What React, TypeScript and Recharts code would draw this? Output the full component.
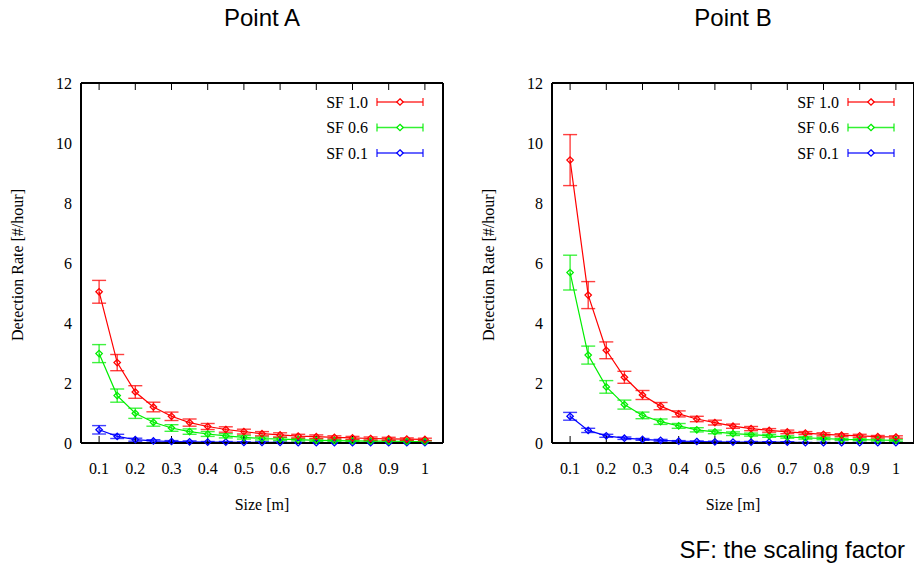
import React from 'react';
import { LineChart, Line, XAxis, YAxis, ErrorBar } from 'recharts';

const sizes = [0.1, 0.15, 0.2, 0.25, 0.3, 0.35, 0.4, 0.45, 0.5, 0.55, 0.6, 0.65, 0.7, 0.75, 0.8, 0.85, 0.9, 0.95, 1.0];

const xTicks = [0.1, 0.2, 0.3, 0.4, 0.5, 0.6, 0.7, 0.8, 0.9, 1];
const yMajorTicks = [0, 2, 4, 6, 8, 10, 12];
const yMinorTicks = [0.5, 1, 1.5, 2.5, 3, 3.5, 4.5, 5, 5.5, 6.5, 7, 7.5, 8.5, 9, 9.5, 10.5, 11, 11.5];

const seriesNames = ['SF 1.0', 'SF 0.6', 'SF 0.1'];
const seriesColors = ['#ff0000', '#00ee00', '#0000ff'];
const panelTitles = ['Point A', 'Point B'];

// Point A
const aSF10 = [5.04, 2.68, 1.70, 1.20, 0.89, 0.68, 0.55, 0.45, 0.38, 0.31, 0.27, 0.23, 0.21, 0.19, 0.17, 0.15, 0.14, 0.13, 0.12];
const aSF10Err = [0.38, 0.27, 0.21, 0.16, 0.14, 0.12, 0.10, 0.09, 0.08, 0.07, 0.07, 0.06, 0.06, 0.05, 0.05, 0.05, 0.05, 0.04, 0.04];
const aSF06 = [2.98, 1.58, 0.99, 0.69, 0.50, 0.38, 0.30, 0.24, 0.19, 0.15, 0.13, 0.11, 0.09, 0.08, 0.07, 0.06, 0.06, 0.05, 0.05];
const aSF06Err = [0.30, 0.22, 0.17, 0.13, 0.11, 0.09, 0.08, 0.07, 0.06, 0.05, 0.05, 0.04, 0.04, 0.04, 0.03, 0.03, 0.03, 0.03, 0.03];
const aSF01 = [0.44, 0.22, 0.11, 0.07, 0.05, 0.04, 0.03, 0.03, 0.02, 0.02, 0.02, 0.01, 0.01, 0.01, 0.01, 0.01, 0.01, 0.01, 0.01];
const aSF01Err = [0.14, 0.07, 0.05, 0.04, 0.03, 0.03, 0.02, 0.02, 0.02, 0.02, 0.01, 0.01, 0.01, 0.01, 0.01, 0.01, 0.01, 0.01, 0.01];

// Point B
const bSF10 = [9.43, 4.93, 3.09, 2.19, 1.60, 1.23, 0.97, 0.80, 0.68, 0.56, 0.48, 0.42, 0.37, 0.33, 0.29, 0.26, 0.24, 0.21, 0.20];
const bSF10Err = [0.85, 0.45, 0.28, 0.20, 0.15, 0.12, 0.10, 0.09, 0.08, 0.07, 0.07, 0.06, 0.06, 0.05, 0.05, 0.05, 0.05, 0.04, 0.04];
const bSF06 = [5.68, 2.93, 1.87, 1.28, 0.92, 0.71, 0.57, 0.44, 0.37, 0.31, 0.28, 0.24, 0.20, 0.17, 0.15, 0.12, 0.11, 0.10, 0.09];
const bSF06Err = [0.58, 0.30, 0.21, 0.15, 0.11, 0.09, 0.08, 0.07, 0.06, 0.06, 0.05, 0.05, 0.04, 0.04, 0.04, 0.03, 0.03, 0.03, 0.03];
const bSF01 = [0.89, 0.42, 0.24, 0.16, 0.12, 0.09, 0.06, 0.05, 0.04, 0.03, 0.03, 0.03, 0.03, 0.01, 0.01, 0.01, 0.01, 0.01, 0.01];
const bSF01Err = [0.13, 0.07, 0.05, 0.04, 0.03, 0.03, 0.02, 0.02, 0.02, 0.02, 0.02, 0.01, 0.01, 0.01, 0.01, 0.01, 0.01, 0.01, 0.01];

const buildRows = (v1: number[], e1: number[], v2: number[], e2: number[], v3: number[], e3: number[]) =>
  sizes.map((s, i) => ({ size: s, s0: v1[i], e0: e1[i], s1: v2[i], e1: e2[i], s2: v3[i], e2: e3[i] }));

const rowsA = buildRows(aSF10, aSF10Err, aSF06, aSF06Err, aSF01, aSF01Err);
const rowsB = buildRows(bSF10, bSF10Err, bSF06, bSF06Err, bSF01, bSF01Err);

const SERIF = '"Liberation Serif", "DejaVu Serif", serif';
const SANS = '"Liberation Sans", Arial, sans-serif';

const EmptyTick = () => <g />;

const makeDot = (color: string) => (props: any) => {
  const { cx, cy, index } = props;
  if (cx == null || cy == null) return <g key={`d-${index}`} />;
  const r = 3.2;
  return (
    <path
      key={`d-${index}`}
      d={`M${cx},${cy - r}L${cx + r},${cy}L${cx},${cy + r}L${cx - r},${cy}Z`}
      fill="none"
      stroke={color}
      strokeWidth={1.3}
    />
  );
};

const CHART_W = 457;
const CHART_H = 567;

function Panel({ rows, left }: { rows: any[]; left: number }) {
  const xDomain: [number, number] = [0.05, 1.05];
  const yDomain: [number, number] = [0, 12];
  const border = { stroke: '#000', strokeWidth: 2 };
  const tl = { stroke: '#000', strokeWidth: 1 };
  return (
    <div style={{ position: 'absolute', left, top: 0 }}>
      <LineChart width={CHART_W} height={CHART_H} data={rows} margin={{ top: 83, right: 14, left: 21, bottom: 94 }}>
        <XAxis xAxisId="x" dataKey="size" type="number" domain={xDomain} allowDataOverflow ticks={xTicks} interval={0}
          tickLine={false} tickSize={0} tickMargin={20} height={30} axisLine={border}
          tick={{ fill: '#000', fontSize: 16, fontFamily: SERIF }} />
        <XAxis xAxisId="xin" dataKey="size" type="number" domain={xDomain} allowDataOverflow ticks={xTicks} interval={0}
          mirror height={1} tick={EmptyTick} tickSize={7} tickLine={tl} axisLine={false} />
        <XAxis xAxisId="xtop" orientation="top" dataKey="size" type="number" domain={xDomain} allowDataOverflow ticks={xTicks} interval={0}
          mirror height={1} tick={EmptyTick} tickSize={7} tickLine={tl} axisLine={border} />
        <YAxis yAxisId="y" type="number" domain={yDomain} ticks={yMajorTicks} interval={0} width={60}
          tickLine={false} tickSize={0} tickMargin={9} axisLine={border}
          tick={{ fill: '#000', fontSize: 16, fontFamily: SERIF }} />
        <YAxis yAxisId="yin" type="number" domain={yDomain} ticks={yMajorTicks} interval={0} mirror width={1}
          tick={EmptyTick} tickSize={7} tickLine={tl} axisLine={false} />
        <YAxis yAxisId="yinm" type="number" domain={yDomain} ticks={yMinorTicks} interval={0} mirror width={1}
          tick={EmptyTick} tickSize={4} tickLine={tl} axisLine={false} />
        <YAxis yAxisId="yr" orientation="right" type="number" domain={yDomain} ticks={yMajorTicks} interval={0} mirror width={1}
          tick={EmptyTick} tickSize={7} tickLine={tl} axisLine={border} />
        <YAxis yAxisId="yrm" orientation="right" type="number" domain={yDomain} ticks={yMinorTicks} interval={0} mirror width={1}
          tick={EmptyTick} tickSize={4} tickLine={tl} axisLine={false} />
        {[2, 1, 0].map((k) => (
          <Line key={k} xAxisId="x" yAxisId="y" type="linear" dataKey={`s${k}`} name={seriesNames[k]}
            stroke={seriesColors[k]} strokeWidth={1.2} dot={makeDot(seriesColors[k])} activeDot={false}
            isAnimationActive={false}>
            <ErrorBar dataKey={`e${k}`} direction="y" width={7} stroke={seriesColors[k]} strokeWidth={1.4} strokeOpacity={0.75} />
          </Line>
        ))}
      </LineChart>
    </div>
  );
}

function Overlay() {
  const panelOffsets = [0, 471];
  return (
    <svg width={914} height={567} style={{ position: 'absolute', left: 0, top: 0, pointerEvents: 'none' }}>
      {panelOffsets.map((dx, p) => (
        <g key={p}>
          <text x={262 + dx} y={26} textAnchor="middle" fontFamily={SANS} fontSize={24} fill="#000">{panelTitles[p]}</text>
          <text x={0} y={0} transform={`translate(${23 + dx},265) rotate(-90)`} textAnchor="middle" fontFamily={SERIF} fontSize={16} fill="#000">
            Detection Rate [#/hour]
          </text>
          <text x={262 + dx} y={510} textAnchor="middle" fontFamily={SERIF} fontSize={16} fill="#000">Size [m]</text>
          {seriesNames.map((name, i) => {
            const cy = 102 + i * 25.5;
            const c = seriesColors[i];
            const x1 = 377 + dx;
            const x2 = 423 + dx;
            const xm = 400 + dx;
            const r = 3.2;
            return (
              <g key={name}>
                <text x={368 + dx} y={cy + 5.5} textAnchor="end" fontFamily={SERIF} fontSize={16} fill="#000">{name}</text>
                <line x1={x1} y1={cy} x2={x2} y2={cy} stroke={c} strokeWidth={1.4} strokeOpacity={0.8} />
                <line x1={x1} y1={cy - 4} x2={x1} y2={cy + 4} stroke={c} strokeWidth={1.4} strokeOpacity={0.8} />
                <line x1={x2} y1={cy - 4} x2={x2} y2={cy + 4} stroke={c} strokeWidth={1.4} strokeOpacity={0.8} />
                <path d={`M${xm},${cy - r}L${xm + r},${cy}L${xm},${cy + r}L${xm - r},${cy}Z`} fill="#fff" stroke={c} strokeWidth={1.3} />
              </g>
            );
          })}
        </g>
      ))}
      <text x={905} y={558} textAnchor="end" fontFamily={SANS} fontSize={24} fill="#000">SF: the scaling factor</text>
    </svg>
  );
}

export default function App() {
  return (
    <div style={{ position: 'absolute', left: 0, top: 0, width: 914, height: 567, background: '#fff', overflow: 'hidden' }}>
      <Panel rows={rowsA} left={0} />
      <Panel rows={rowsB} left={471} />
      <Overlay />
    </div>
  );
}
